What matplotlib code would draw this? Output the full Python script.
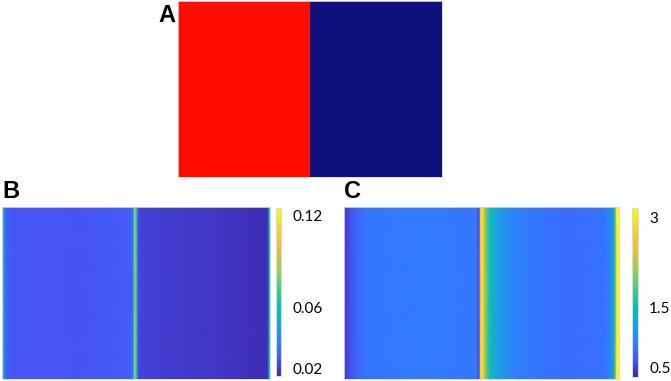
"""Three-panel figure: two-region map (A) and two striped parula fields (B, C)."""
import matplotlib

matplotlib.use("Agg")
import matplotlib.pyplot as plt  # noqa: E402
import numpy as np  # noqa: E402
from matplotlib.colors import LinearSegmentedColormap, ListedColormap  # noqa: E402

# Panel A: two regions (left / right)
A_VALUES = [[1, 0]]
A_COLORS = ["#10107f", "#ff0d00"]

# Panel B: profile across the width (fraction of width, value)
B_X = [0.000, 0.004, 0.008, 0.015, 0.05, 0.25, 0.47, 0.485, 0.490, 0.495,
       0.500, 0.505, 0.512, 0.60, 0.80, 0.985, 0.993, 0.997, 1.000]
B_V = [0.090, 0.075, 0.045, 0.030, 0.027, 0.027, 0.028, 0.032, 0.045, 0.085,
       0.078, 0.040, 0.022, 0.021, 0.0195, 0.017, 0.020, 0.060, 0.070]
B_TICKS = [0.02, 0.06, 0.12]
B_TICKLABELS = ["0.02", "0.06", "0.12"]
B_LIMS = (0.015, 0.125)

# Panel C: profile across the width
C_X = [0.000, 0.02, 0.05, 0.09, 0.30, 0.48, 0.488, 0.492, 0.497, 0.503, 0.508,
       0.515, 0.53, 0.56, 0.62, 0.80, 0.95, 0.975, 0.985, 0.99, 0.993, 1.000]
C_V = [0.45, 0.60, 0.78, 0.88, 0.90, 0.88, 0.65, 0.70, 2.7, 3.0, 2.6,
       2.0, 1.55, 1.2, 0.95, 0.80, 0.85, 1.1, 1.6, 2.6, 3.15, 3.15]
C_TICKS = [0.5, 1.5, 3]
C_TICKLABELS = ["0.5", "1.5", "3"]
C_LIMS = (0.35, 3.15)

# approx. parula
PARULA = [(0.2422, 0.1504, 0.6603), (0.2810, 0.3228, 0.9579),
          (0.1923, 0.4880, 0.9996), (0.1084, 0.6229, 0.8810),
          (0.0138, 0.7201, 0.7683), (0.2119, 0.7798, 0.5979),
          (0.5127, 0.8046, 0.4033), (0.8092, 0.7543, 0.2572),
          (0.9908, 0.7350, 0.2382), (0.9681, 0.8440, 0.1603),
          (0.9763, 0.9831, 0.0538)]
parula = LinearSegmentedColormap.from_list("parula", PARULA)

TICK_FONT = ["Liberation Sans Narrow", "Lato", "DejaVu Sans"]

W, H = 671, 381
fig = plt.figure(figsize=(W / 100, H / 100), dpi=100)


def fa(x0, y0, x1, y1):
    """pixel box -> figure fraction rect"""
    return [x0 / W, 1 - y1 / H, (x1 - x0) / W, (y1 - y0) / H]


def clean(ax):
    ax.set_xticks([])
    ax.set_yticks([])
    for s in ax.spines.values():
        s.set_color("#d8d8d8")
        s.set_linewidth(0.6)


# A
axA = fig.add_axes(fa(178, 1, 442, 177))
axA.imshow(A_VALUES, cmap=ListedColormap(A_COLORS), aspect="auto",
           interpolation="nearest", vmin=0, vmax=1)
clean(axA)
fig.text(158 / W, 1 - 16 / H, "A", fontsize=17, fontweight="bold",
         family="Liberation Sans", ha="left", va="center")


def field(box, cbox, xs, vs, lims, ticks, labels, letter, lx):
    ax = fig.add_axes(fa(*box))
    xs = np.asarray(xs)
    z = np.vstack([vs, vs])
    m = ax.pcolormesh(xs, [0, 1], z, shading="gouraud", cmap=parula,
                      vmin=lims[0], vmax=lims[1])
    ax.set_xlim(0, 1)
    ax.set_ylim(0, 1)
    clean(ax)
    cax = fig.add_axes(fa(*cbox))
    cb = fig.colorbar(m, cax=cax)
    cb.set_ticks(ticks)
    cb.set_ticklabels(labels)
    cb.ax.tick_params(length=0, pad=8, labelsize=11)
    for t in cb.ax.get_yticklabels():
        t.set_family(TICK_FONT)
    cb.outline.set_edgecolor("#cfe3c8")
    cb.outline.set_linewidth(0.8)
    fig.text(lx / W, 1 - 192 / H, letter, fontsize=17, fontweight="bold",
             family="Liberation Sans", ha="left", va="center")


field((2, 207, 270, 379), (276, 208, 281, 376), B_X, B_V, B_LIMS,
      B_TICKS, B_TICKLABELS, "B", 2)
field((344, 207, 619, 379), (632, 208, 638, 377), C_X, C_V, C_LIMS,
      C_TICKS, C_TICKLABELS, "C", 344)

fig.savefig("out.png", dpi=100)
